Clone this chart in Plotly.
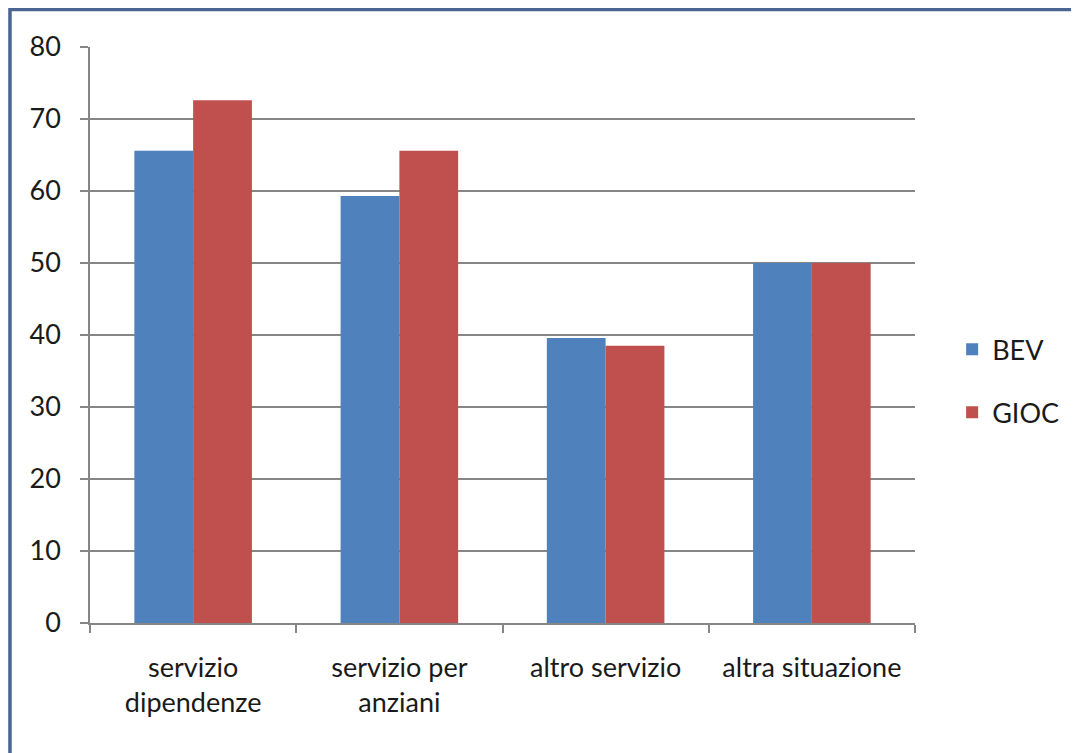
import plotly.graph_objects as go

categories = ["servizio<br>dipendenze", "servizio per<br>anziani", "altro servizio", "altra situazione"]
bev = [65.6, 59.3, 39.6, 50.0]
gioc = [72.6, 65.6, 38.5, 50.0]
y_ticks = [0, 10, 20, 30, 40, 50, 60, 70, 80]

FONT = "Lato, Open Sans, sans-serif"

fig = go.Figure()
fig.add_trace(go.Bar(name="BEV", x=categories, y=bev, marker_color="#4f81bd",
                     marker_line_width=0, legendgroup="a"))
fig.add_trace(go.Bar(name="GIOC", x=categories, y=gioc, marker_color="#c0504d",
                     marker_line_width=0, legendgroup="b"))

fig.update_layout(
    width=1079, height=753,
    margin=dict(l=82, r=172, t=39, b=138),
    paper_bgcolor="white", plot_bgcolor="white",
    barmode="group", bargap=0.43, bargroupgap=0,
    font=dict(family=FONT, size=27, color="#1a1a1a"),
    showlegend=True,
    legend=dict(x=1.045, y=0.42, xanchor="left", yanchor="middle",
                font=dict(size=27), tracegroupgap=25, itemwidth=30),
    xaxis=dict(showline=True, linecolor="#868686", linewidth=1.5,
               ticks="outside", tickson="boundaries", ticklen=8,
               tickcolor="#868686", tickwidth=1.5, showgrid=False,
               ticklabelstandoff=20, tickfont=dict(size=27)),
    yaxis=dict(range=[0, 80], tickvals=y_ticks, showline=True, linecolor="#868686",
               linewidth=1.5, ticks="outside", ticklen=8, tickcolor="#868686",
               tickwidth=1.5, showgrid=True, gridcolor="#868686", gridwidth=1.5,
               zeroline=False, ticklabelstandoff=14, tickfont=dict(size=27)),
    shapes=[dict(type="rect", xref="paper", yref="paper",
                 x0=-0.097, x1=1.5, y0=-0.5, y1=1.065,
                 line=dict(color="#4a6592", width=3.5), fillcolor="rgba(0,0,0,0)",
                 layer="below")],
)

fig.write_html("out.html")
